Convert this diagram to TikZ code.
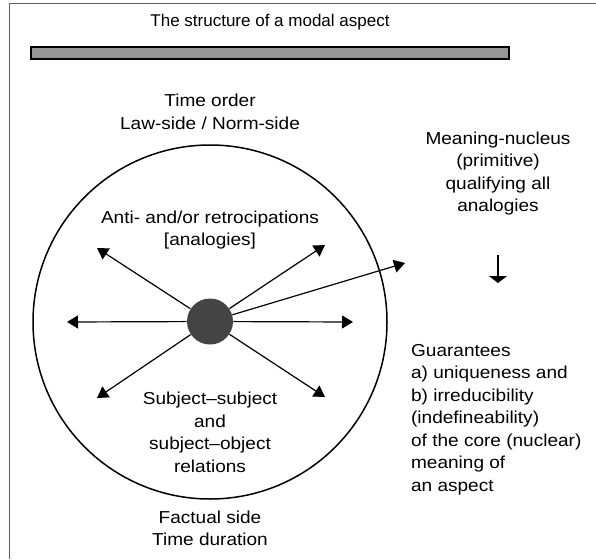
\documentclass[tikz,border=0pt]{standalone}
\usepackage{fontspec}
\setmainfont{Liberation Sans}
\newfontfamily\bodyfont[FakeStretch=1.1]{Liberation Sans}
\usetikzlibrary{arrows.meta}

\tikzset{every picture/.style={line width=0.75pt}}
\tikzset{
  lbl/.style={inner sep=0.75pt, align=center, font=\bodyfont\fontsize{17.3}{22.5}\selectfont},
  ray/.style={-{Triangle[length=11pt,width=13pt]}, line width=1.2pt},
}

\begin{document}
\begin{tikzpicture}[x=1pt,y=1pt,yscale=-1,xscale=1]
        \useasboundingbox (0,0) rectangle (596,559);
        %Shape: Frame (open to the right and bottom)
        \draw [color={rgb, 255:red, 95; green, 95; blue, 95 }, line width=1.6pt] (9.5,559) -- (9.5,3.5) -- (596,3.5) ;
        % Text Node
        \node (title) at (270,22) [inner sep=0.75pt, font=\fontsize{17}{20}\selectfont] {The structure of a modal aspect};
        %Shape: Rectangle [bar]
        \draw [fill={rgb, 255:red, 150; green, 150; blue, 150 }, fill opacity=1, line width=1.1pt] (31,47) rectangle (509,59) ;
        %Shape: Circle [aspect]
        \node (aspect) at (210,322) [circle, draw, line width=1.5pt, minimum size=354pt, inner sep=0pt] {};
        %Shape: Circle [nucleus]
        \node (nucleus) at (210,321.5) [circle, fill={rgb, 255:red, 68; green, 68; blue, 68 }, minimum size=46pt, inner sep=0pt] {};
        % arrow ends
        \coordinate (tipW) at (67,322);
        \coordinate (tipE) at (353,322);
        \coordinate (tipNW) at (97,248);
        \coordinate (tipNE) at (325,245);
        \coordinate (tipSW) at (97,398);
        \coordinate (tipSE) at (325,397);
        \coordinate (tipOut) at (405,263);
        %Straight Lines [rays]
        \draw [ray] (nucleus) -- (tipW) ;
        \draw [ray] (nucleus) -- (tipE) ;
        \draw [ray] (nucleus) -- (tipNW) ;
        \draw [ray] (nucleus) -- (tipNE) ;
        \draw [ray] (nucleus) -- (tipSW) ;
        \draw [ray] (nucleus) -- (tipSE) ;
        \draw [ray] (nucleus) -- (tipOut) ;
        % Text Node
        \node (order) at (210,112) [lbl] {Time order\\Law-side / Norm-side};
        % Text Node
        \node (analog) at (210,230) [lbl] {Anti- and/or retrocipations\\{[analogies]}};
        % Text Node
        \node (rel) at (210,432.5) [lbl] {Subject–subject\\and\\subject–object\\relations};
        % Text Node
        \node (fact) at (210,528.5) [lbl] {Factual side\\Time duration};
        % Text Node
        \node (meaning) at (498,173.5) [lbl] {Meaning-nucleus\\(primitive)\\qualifying all\\analogies};
        % Text Node
        \node (guar) at (410,419.5) [lbl, anchor=west, align=left] {Guarantees\\a) uniqueness and\\b) irreducibility\\(indefineability)\\of the core (nuclear)\\meaning of\\an aspect};
        %Straight Lines [down arrow]
        \coordinate (downA) at (498,255);
        \coordinate (downB) at (498,283);
        \draw [-{Triangle[length=7pt,width=18pt]}, line width=1.1pt] (downA) -- (downB) ;
\end{tikzpicture}
\end{document}
